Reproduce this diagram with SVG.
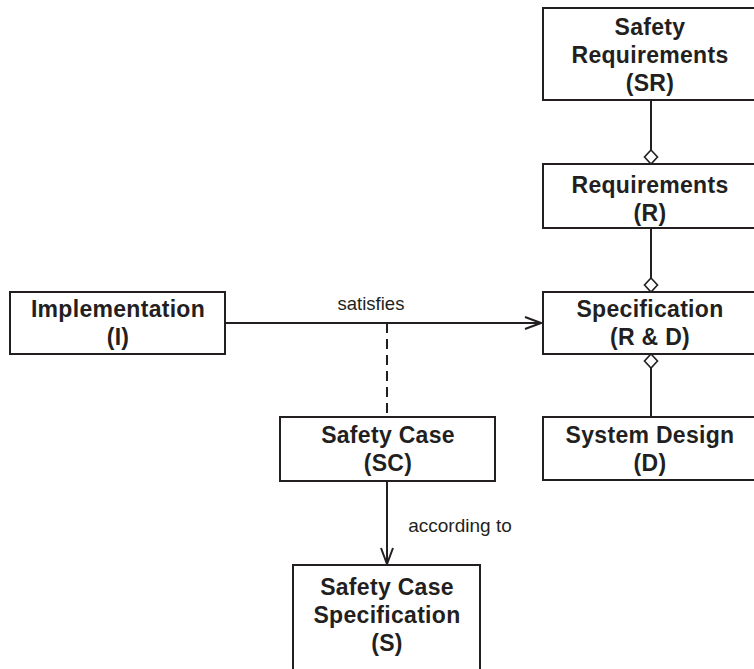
<svg xmlns="http://www.w3.org/2000/svg" width="754" height="669" viewBox="0 0 754 669">
  <style>
    .box { fill: #ffffff; stroke: #231f20; stroke-width: 2; }
    .lbl { font-family: "Liberation Sans", Arial, sans-serif; font-weight: bold; font-size: 23px; letter-spacing: 0.3px; fill: #231f20; text-anchor: middle; }
    .note { font-family: "Liberation Sans", Arial, sans-serif; font-size: 18.5px; fill: #231f20; text-anchor: middle; }
    .edge { fill: none; stroke: #231f20; stroke-width: 2; }
    .dash { fill: none; stroke: #231f20; stroke-width: 2; stroke-dasharray: 10 6; }
    .diamond { fill: #ffffff; stroke: #231f20; stroke-width: 1.6; }
  </style>
  <defs>
    <marker id="openArrow" viewBox="0 0 18 14" refX="17" refY="7" markerWidth="18" markerHeight="14" markerUnits="userSpaceOnUse" orient="auto">
      <path d="M1,1 L17,7 L1,13" fill="none" stroke="#231f20" stroke-width="2"/>
    </marker>
  </defs>
  <rect width="754" height="669" fill="#ffffff"/>

  <!-- connectors -->
  <g id="connectors">
    <path class="edge" d="M651,100 V150"/>
    <path class="diamond" d="M651,150 L657.5,157 L651,164 L644.5,157 Z"/>
    <path class="edge" d="M651,228 V278"/>
    <path class="diamond" d="M651,278 L657.5,285 L651,292 L644.5,285 Z"/>
    <path class="edge" d="M651,417 V368"/>
    <path class="diamond" d="M651,354 L657.5,361 L651,368 L644.5,361 Z"/>
    <path class="edge" d="M226,323 H541" marker-end="url(#openArrow)"/>
    <text class="note" x="371" y="310">satisfies</text>
    <path class="dash" d="M387,323 V417"/>
    <path class="edge" d="M387,481 V564" marker-end="url(#openArrow)"/>
    <text class="note" x="460" y="532" style="font-size:19px">according to</text>
  </g>

  <g id="safety-requirements">
    <rect class="box" x="543" y="8" width="220" height="92"/>
    <text class="lbl" x="650" y="35">Safety</text>
    <text class="lbl" x="650" y="63">Requirements</text>
    <text class="lbl" x="650" y="91">(SR)</text>
  </g>

  <g id="requirements">
    <rect class="box" x="543" y="164" width="220" height="64"/>
    <text class="lbl" x="650" y="193">Requirements</text>
    <text class="lbl" x="650" y="221">(R)</text>
  </g>

  <g id="specification">
    <rect class="box" x="543" y="292" width="220" height="62"/>
    <text class="lbl" x="650" y="317">Specification</text>
    <text class="lbl" x="650" y="345">(R &amp; D)</text>
  </g>

  <g id="system-design">
    <rect class="box" x="543" y="417" width="220" height="63"/>
    <text class="lbl" x="650" y="443">System Design</text>
    <text class="lbl" x="650" y="471">(D)</text>
  </g>

  <g id="implementation">
    <rect class="box" x="10" y="292" width="215" height="62"/>
    <text class="lbl" x="118" y="317">Implementation</text>
    <text class="lbl" x="118" y="345">(I)</text>
  </g>

  <g id="safety-case">
    <rect class="box" x="280" y="417" width="215" height="64"/>
    <text class="lbl" x="388" y="443">Safety Case</text>
    <text class="lbl" x="388" y="471">(SC)</text>
  </g>

  <g id="safety-case-specification">
    <path class="box" d="M293,680 V565 H480 V680"/>
    <text class="lbl" x="387" y="595">Safety Case</text>
    <text class="lbl" x="387" y="623">Specification</text>
    <text class="lbl" x="387" y="651">(S)</text>
  </g>
</svg>
